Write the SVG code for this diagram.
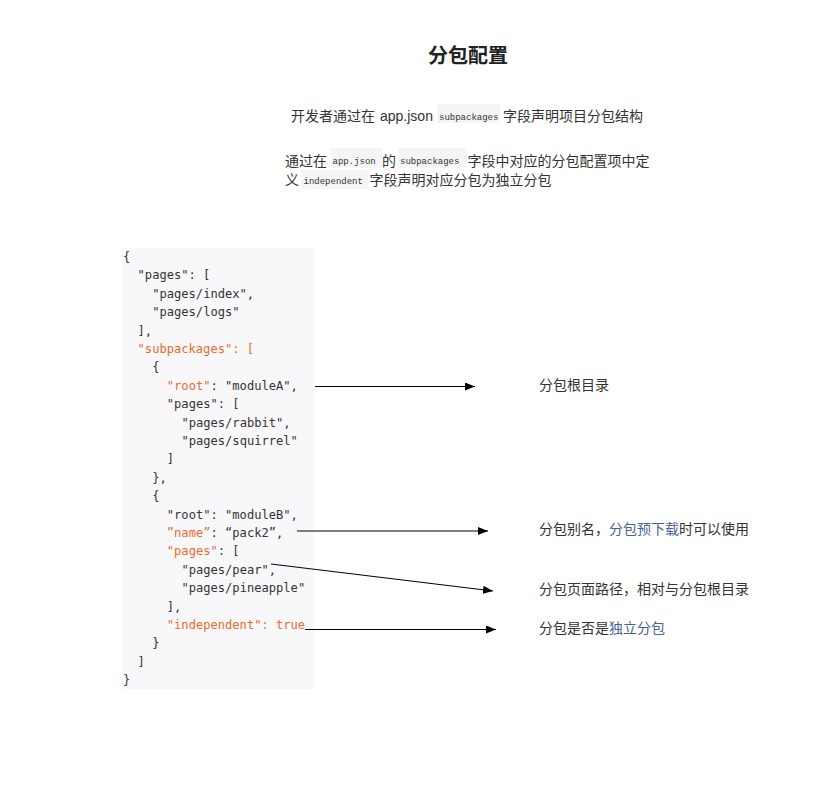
<svg xmlns="http://www.w3.org/2000/svg" width="832" height="797" viewBox="0 0 832 797">
<style>
.cjk{font-family:"Noto Sans CJK SC","Liberation Sans",sans-serif;font-size:14px;fill:#333}
.lat{font-family:"Liberation Sans","Noto Sans CJK SC",sans-serif;font-size:14px;fill:#333}
.mini{font-family:"Liberation Mono",monospace;font-size:9px;fill:#333}
.code{font-family:"DejaVu Sans Mono",monospace;font-size:12.1px;fill:#333}
.k{fill:#ef6a2c}
.blue{fill:#4b5f9a}
.chip{fill:#f5f5f5}
.conn{stroke:#000;stroke-width:1;fill:none;marker-end:url(#ah)}
</style>
<defs>
<marker id="ah" markerUnits="userSpaceOnUse" markerWidth="10" markerHeight="8" refX="10" refY="4" orient="auto">
<path d="M0,0 L10,4 L0,8 Z" fill="#000"/>
</marker>
</defs>
<rect width="832" height="797" fill="#fff"/>
<g id="title">
<text x="468" y="62.5" text-anchor="middle" style="font-family:'Noto Sans CJK SC',sans-serif;font-size:20px;font-weight:bold;fill:#222">分包配置</text>
</g>
<g id="desc1">
<rect class="chip" x="437.5" y="104" width="62.5" height="19"/>
<text class="cjk" x="291" y="121">开发者通过在</text>
<text class="lat" x="380" y="121">app.json</text>
<text class="mini" x="439" y="120">subpackages</text>
<text class="cjk" x="503" y="121">字段声明项目分包结构</text>
</g>
<g id="desc2">
<rect class="chip" x="331" y="148" width="51" height="20"/>
<rect class="chip" x="398" y="148" width="69" height="20"/>
<rect class="chip" x="301" y="170" width="67" height="19"/>
<text class="cjk" x="285" y="166">通过在</text>
<text class="mini" x="332.5" y="164">app.json</text>
<text class="cjk" x="382" y="166">的</text>
<text class="mini" x="400" y="164">subpackages</text>
<text class="cjk" x="467.5" y="166">字段中对应的分包配置项中定</text>
<text class="cjk" x="285" y="185">义</text>
<text class="mini" x="303.5" y="184">independent</text>
<text class="cjk" x="369.5" y="185">字段声明对应分包为独立分包</text>
</g>
<g id="code-block">
<rect x="122" y="248" width="192" height="441" fill="#f8f8fa"/>
<text class="code" x="123" y="261">{</text>
<text class="code" x="137.6" y="279.4">"pages": [</text>
<text class="code" x="152.2" y="297.8">"pages/index",</text>
<text class="code" x="152.2" y="316.2">"pages/logs"</text>
<text class="code" x="137.6" y="334.6">],</text>
<text class="code k" x="137.6" y="353">"subpackages": [</text>
<text class="code" x="152.2" y="371.4">{</text>
<text class="code" x="166.8" y="389.8"><tspan class="k">"root"</tspan>: "moduleA",</text>
<text class="code" x="166.8" y="408.2">"pages": [</text>
<text class="code" x="181.4" y="426.6">"pages/rabbit",</text>
<text class="code" x="181.4" y="445">"pages/squirrel"</text>
<text class="code" x="166.8" y="463.4">]</text>
<text class="code" x="152.2" y="481.8">},</text>
<text class="code" x="152.2" y="500.2">{</text>
<text class="code" x="166.8" y="518.6">"root": "moduleB",</text>
<text class="code" x="166.8" y="537"><tspan class="k">”name”</tspan>: “pack2”,</text>
<text class="code" x="166.8" y="555.4"><tspan class="k">"pages"</tspan>: [</text>
<text class="code" x="181.4" y="573.8">"pages/pear",</text>
<text class="code" x="181.4" y="592.2">"pages/pineapple"</text>
<text class="code" x="166.8" y="610.6">],</text>
<text class="code k" x="166.8" y="629">"independent": true</text>
<text class="code" x="152.2" y="647.4">}</text>
<text class="code" x="137.6" y="665.8">]</text>
<text class="code" x="123" y="684.2">}</text>
</g>
<g id="note-root">
<text class="cjk" x="539" y="390">分包根目录</text>
</g>
<g id="note-name">
<text class="cjk" x="539" y="534">分包别名，<tspan class="blue">分包预下载</tspan>时可以使用</text>
</g>
<g id="note-pages">
<text class="cjk" x="539" y="594">分包页面路径，相对与分包根目录</text>
</g>
<g id="note-independent">
<text class="cjk" x="539" y="633">分包是否是<tspan class="blue">独立分包</tspan></text>
</g>
<g id="connectors">
<line class="conn" x1="315" y1="386.5" x2="475" y2="386.5"/>
<line class="conn" x1="297" y1="531" x2="488" y2="531"/>
<line class="conn" x1="271" y1="564" x2="493" y2="591"/>
<line class="conn" x1="305" y1="629.5" x2="496" y2="629.5"/>
</g>
</svg>
